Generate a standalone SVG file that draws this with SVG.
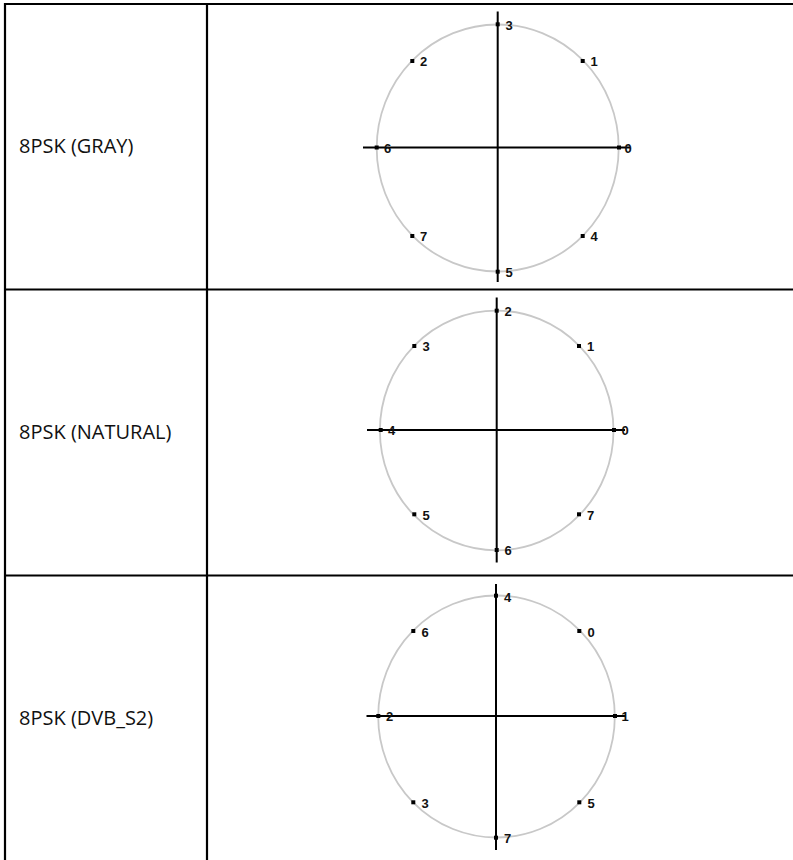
<svg xmlns="http://www.w3.org/2000/svg" width="793" height="860" viewBox="0 0 793 860">
<style>
.grid{stroke:#000;stroke-width:2.2;fill:none}
.ring{fill:none;stroke:#c8c8c8;stroke-width:1.8}
.axis{stroke:#000;stroke-width:2}
.pt{fill:#000}
.lbl{font-family:"Liberation Sans",Arial,sans-serif;font-size:13px;font-weight:bold;fill:#111}
.name{font-family:"Open Sans","Noto Sans",sans-serif;font-size:20px;fill:#111}
</style>
<rect width="793" height="860" fill="#fff"/>
<g id="table" class="grid">
<line x1="4" y1="4" x2="793" y2="4"/>
<line x1="4" y1="289.5" x2="793" y2="289.5"/>
<line x1="4" y1="575.5" x2="793" y2="575.5"/>
<line x1="5" y1="3" x2="5" y2="860"/>
<line x1="207" y1="3" x2="207" y2="860"/>
</g>
<g id="row-gray">
<text class="name" x="19" y="153">8PSK (GRAY)</text>
<ellipse class="ring" cx="497.7" cy="148" rx="121" ry="123.5"/>
<line class="axis" x1="497.7" y1="11.5" x2="497.7" y2="282"/>
<line class="axis" x1="363" y1="147.5" x2="630" y2="147.5"/>
<g class="pt">
<rect x="495.7" y="22.3" width="4" height="4"/>
<rect x="580.7" y="59" width="4" height="4"/>
<rect x="410.3" y="59" width="4" height="4"/>
<rect x="374.7" y="145.5" width="4" height="4"/>
<rect x="617" y="145.5" width="4" height="4"/>
<rect x="410.3" y="234" width="4" height="4"/>
<rect x="580.7" y="234" width="4" height="4"/>
<rect x="495.7" y="269.7" width="4" height="4"/>
</g>
<text class="lbl" x="505.5" y="29.5">3</text>
<text class="lbl" x="590.5" y="66">1</text>
<text class="lbl" x="420" y="66">2</text>
<text class="lbl" x="384" y="152.5">6</text>
<text class="lbl" x="624.5" y="152.5">0</text>
<text class="lbl" x="420" y="241">7</text>
<text class="lbl" x="590.5" y="241">4</text>
<text class="lbl" x="505.5" y="276.5">5</text>
</g>
<g id="row-natural">
<text class="name" x="19" y="439">8PSK (NATURAL)</text>
<ellipse class="ring" cx="496.7" cy="430.5" rx="116.8" ry="119.8"/>
<line class="axis" x1="496.7" y1="297.5" x2="496.7" y2="562.5"/>
<line class="axis" x1="367" y1="430" x2="625" y2="430"/>
<g class="pt">
<rect x="494.7" y="308.7" width="4" height="4"/>
<rect x="577" y="344" width="4" height="4"/>
<rect x="412.3" y="344" width="4" height="4"/>
<rect x="378.7" y="428" width="4" height="4"/>
<rect x="612" y="428" width="4" height="4"/>
<rect x="412.3" y="512.3" width="4" height="4"/>
<rect x="577" y="512.3" width="4" height="4"/>
<rect x="494.7" y="548" width="4" height="4"/>
</g>
<text class="lbl" x="504.5" y="316">2</text>
<text class="lbl" x="587" y="351">1</text>
<text class="lbl" x="422.5" y="351">3</text>
<text class="lbl" x="388" y="435">4</text>
<text class="lbl" x="621.5" y="435">0</text>
<text class="lbl" x="422.5" y="519.5">5</text>
<text class="lbl" x="587" y="519.5">7</text>
<text class="lbl" x="504.5" y="555">6</text>
</g>
<g id="row-dvbs2">
<text class="name" x="19" y="725">8PSK (DVB_S2)</text>
<ellipse class="ring" cx="496.5" cy="716.5" rx="118.3" ry="121"/>
<line class="axis" x1="496" y1="584" x2="496" y2="850"/>
<line class="axis" x1="366.5" y1="716" x2="626" y2="716"/>
<g class="pt">
<rect x="494" y="593.7" width="4" height="4"/>
<rect x="577.3" y="629" width="4" height="4"/>
<rect x="411.3" y="629" width="4" height="4"/>
<rect x="376.3" y="714" width="4" height="4"/>
<rect x="613" y="714" width="4" height="4"/>
<rect x="411.3" y="800.3" width="4" height="4"/>
<rect x="577.3" y="800.3" width="4" height="4"/>
<rect x="494" y="835.7" width="4" height="4"/>
</g>
<text class="lbl" x="504" y="601.5">4</text>
<text class="lbl" x="587.5" y="636.5">0</text>
<text class="lbl" x="421.5" y="636.5">6</text>
<text class="lbl" x="386" y="721">2</text>
<text class="lbl" x="621.5" y="721">1</text>
<text class="lbl" x="421.5" y="807.5">3</text>
<text class="lbl" x="587.5" y="807.5">5</text>
<text class="lbl" x="504" y="843">7</text>
</g>
</svg>
